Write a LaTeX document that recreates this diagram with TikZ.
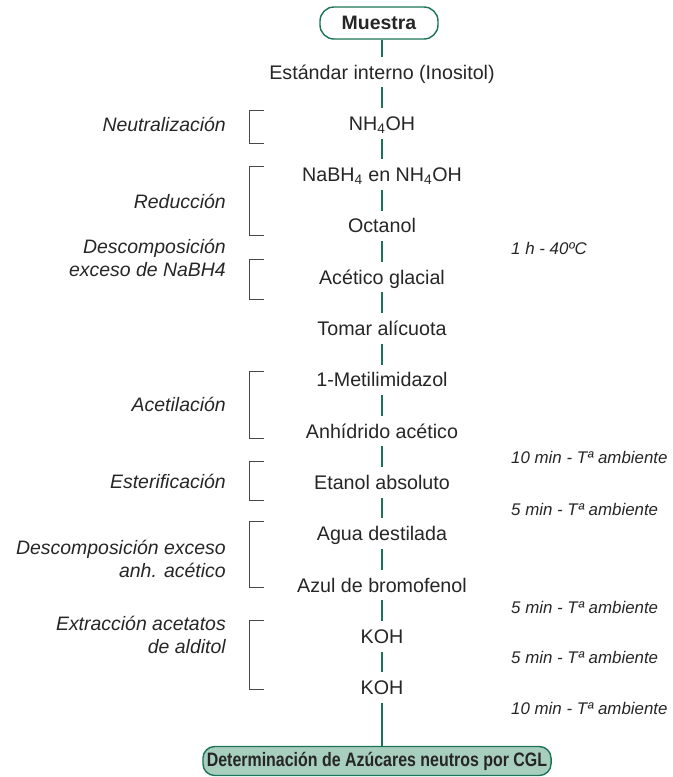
\documentclass[tikz,border=0pt]{standalone}
\usepackage{fontspec}
\setmainfont{Liberation Sans}
\newfontfamily\estrecha[FakeStretch=0.82]{Liberation Sans}
\definecolor{verde}{RGB}{28,116,88}
\definecolor{verdeclaro}{RGB}{168,206,190}
\definecolor{tinta}{RGB}{38,38,38}
\tikzset{
  paso/.style={font=\fontsize{16.8}{20}\selectfont, text=tinta,
    text height=12pt, text depth=0pt, inner xsep=2pt, inner ysep=6.8pt},
  etapa/.style={font=\fontsize{16.6}{19.6}\selectfont\itshape, text=tinta,
    align=right, anchor=east, inner sep=0pt},
  tiempo/.style={font=\fontsize{14.4}{16}\selectfont\itshape, text=tinta,
    anchor=west, inner sep=0pt},
  caja/.style={draw=verde, line width=1.2pt, rounded corners=12pt,
    font=\fontsize{16.6}{20}\selectfont\bfseries, text=tinta},
  linea/.style={verde, line width=1.2pt},
  llave/.style={tinta!85, line width=0.8pt}
}
\begin{document}
\begin{tikzpicture}[x=0.03cm, y=-0.03cm]
  \useasboundingbox (0,0) rectangle (673,777);
  \node[caja, fill=white, minimum width=3.54cm, minimum height=0.96cm]
    (m) at (379,23) {Muestra};
  \foreach \t [count=\i] in {Estándar interno (Inositol), NH\textsubscript{4}OH,
    NaBH\textsubscript{4} en NH\textsubscript{4}OH, Octanol, Acético glacial,
    Tomar alícuota, 1-Metilimidazol, Anhídrido acético, Etanol absoluto,
    Agua destilada, Azul de bromofenol, KOH, KOH}
    \node[paso] (p\i) at (382,{72+51.3*(\i-1)}) {\t};
  \node[caja, fill=verdeclaro, rounded corners=10pt, minimum width=10.29cm,
    minimum height=0.87cm, font=\fontsize{16.6}{20}\estrecha\bfseries]
    (fin) at (377,761) {Determinación de Azúcares neutros por CGL};
  \draw[linea] (p1) -- (p1 |- m.south);
  \foreach \a/\b in {p1/p2, p2/p3, p3/p4, p4/p5, p5/p6, p6/p7, p7/p8,
    p8/p9, p9/p10, p10/p11, p11/p12, p12/p13}
    \draw[linea] (\a) -- (\b);
  \draw[linea] (p13) -- (p13 |- fin.north);

  \foreach \ya/\yb in {110/143, 166/235, 259/299, 371/438, 461/500,
    521/587, 620/689}
    \draw[llave] (264,\ya) -- (249,\ya) -- (249,\yb) -- (264,\yb);

  \node[etapa] (neu) at (226,124) {Neutralización};
  \node[etapa] (red) at (226,201) {Reducción};
  \node[etapa] (dnab) at (226,258) {Descomposición\\exceso de NaBH4};
  \node[etapa] (ace) at (226,404) {Acetilación};
  \node[etapa] (est) at (226,481) {Esterificación};
  \node[etapa] (danh) at (226,559) {Descomposición exceso\\anh. acético};
  \node[etapa] (ext) at (226,635) {Extracción acetatos\\de alditol};

  \node[tiempo] (t1) at (511,248) {1 h - 40ºC};
  \node[tiempo] (t2) at (511,457) {10 min - Tª ambiente};
  \node[tiempo] (t3) at (511,509) {5 min - Tª ambiente};
  \node[tiempo] (t4) at (511,607) {5 min - Tª ambiente};
  \node[tiempo] (t5) at (511,657) {5 min - Tª ambiente};
  \node[tiempo] (t6) at (511,708) {10 min - Tª ambiente};
\end{tikzpicture}
\end{document}
